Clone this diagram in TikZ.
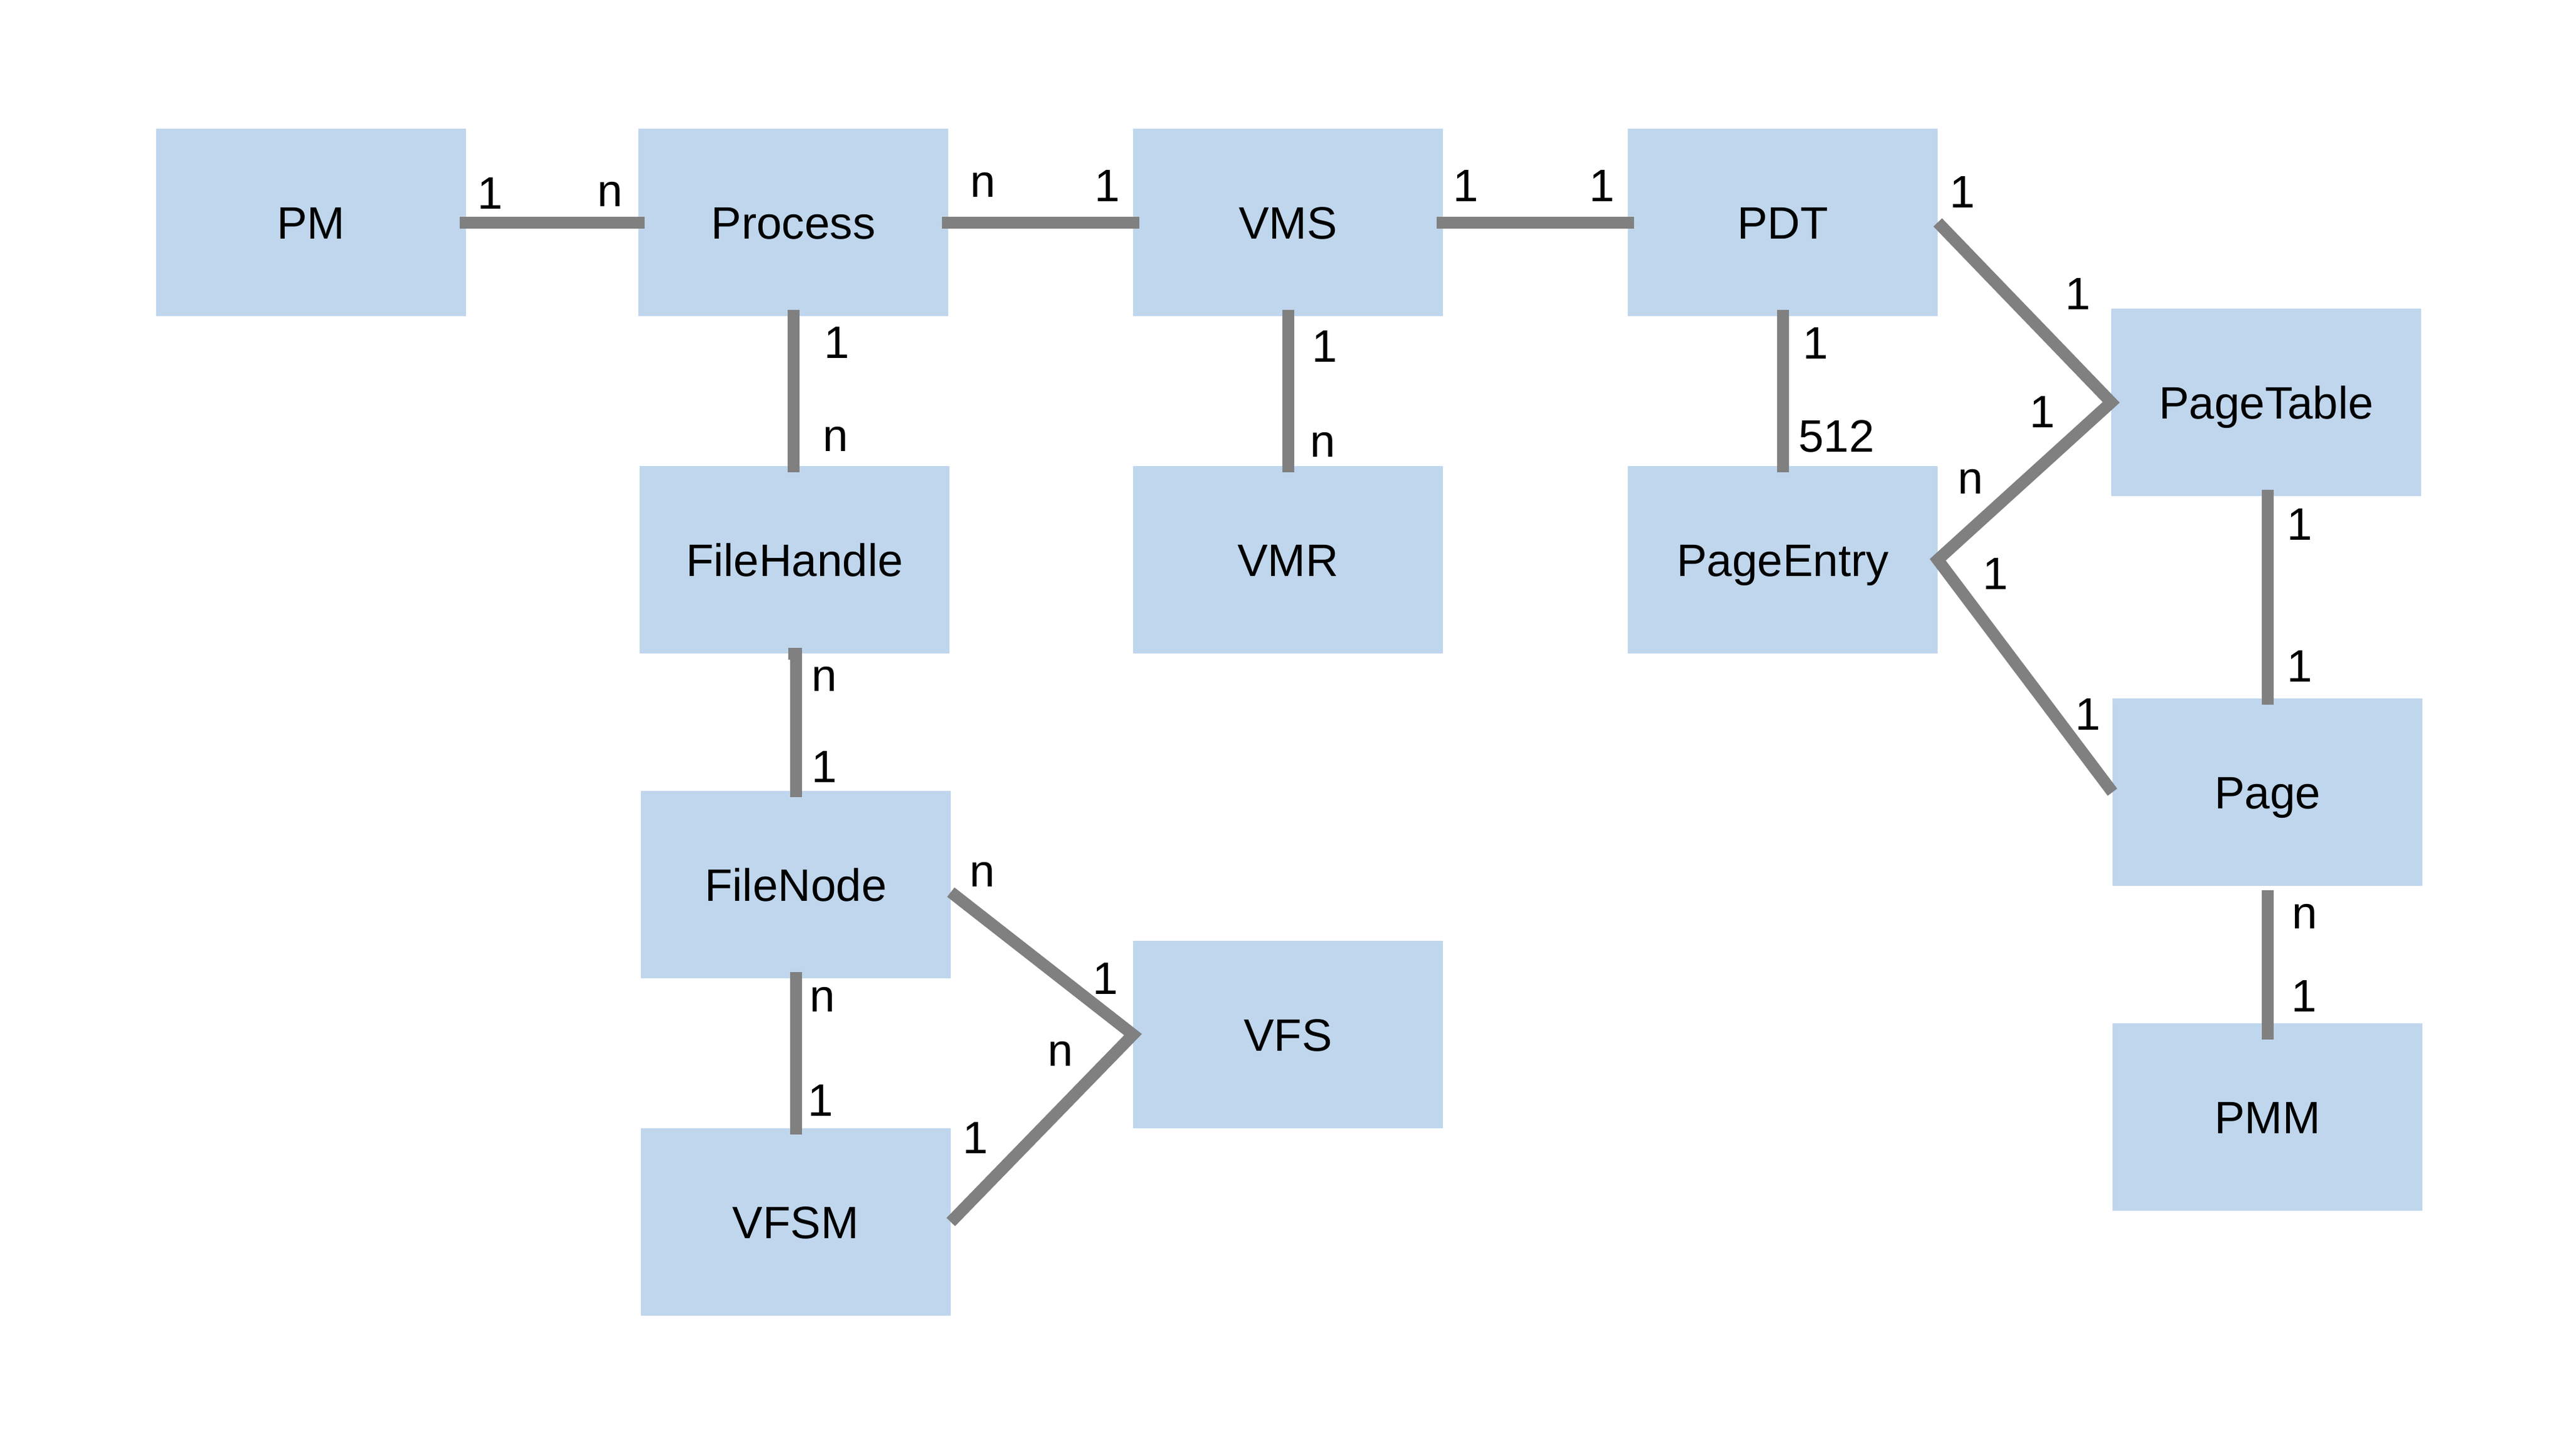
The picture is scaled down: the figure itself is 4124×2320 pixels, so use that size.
\documentclass[tikz,border=0pt]{standalone}
\usepackage{fontspec}
\setmainfont{Liberation Sans}
\definecolor{boxblue}{HTML}{BFD6ED}
\definecolor{linegray}{HTML}{808080}
\begin{document}
\begin{tikzpicture}[x=0.01cm,y=-0.01cm,
  entity/.style={fill=boxblue, minimum width=4.96cm, minimum height=3cm, inner sep=0pt, outer sep=0pt,
    font=\fontsize{20.7}{24}\selectfont, text height=14.8pt, text depth=0pt},
  card/.style={inner sep=0pt, font=\fontsize{20.7}{24}\selectfont},
  rel/.style={draw=linegray, line width=0.19cm, line join=miter},
  ext/.style={shorten >=-0.1cm, shorten <=-0.1cm}]
\useasboundingbox (0,0) rectangle (4124,2320);
\fill[white] (0,0) rectangle (4124,2320);
% entities
\node[entity] (pm)   at (498,356)   {PM};
\node[entity] (proc) at (1270,356)  {Process};
\node[entity] (vms)  at (2062,356)  {VMS};
\node[entity] (pdt)  at (2854,356)  {PDT};
\node[entity] (pt)   at (3628,644)  {PageTable};
\node[entity] (fh)   at (1272,896)  {FileHandle};
\node[entity] (vmr)  at (2062,896)  {VMR};
\node[entity] (pe)   at (2854,896)  {PageEntry};
\node[entity] (page) at (3630,1268) {Page};
\node[entity] (fn)   at (1274,1416) {FileNode};
\node[entity] (vfs)  at (2062,1656) {VFS};
\node[entity] (pmm)  at (3630,1788) {PMM};
\node[entity] (vfsm) at (1274,1956) {VFSM};
% relations
\draw[rel, ext] (pm.east) -- (proc.west);
\draw[rel, ext] (proc.east) -- (vms.west);
\draw[rel, ext] (vms.east) -- (pdt.west);
\draw[rel, ext] (proc.south) -- (proc.south |- fh.north);
\draw[rel, ext] (vms.south) -- (vmr.north);
\draw[rel, ext] (pdt.south) -- (pe.north);
\draw[rel, ext] (fh.south) -- (fh.south -| fn.north) -- (fn.north);
\draw[rel, ext] (fn.south) -- (vfsm.north);
\draw[rel, ext] (page.north |- pt.south) -- (page.north);
\draw[rel, shorten <=0.07cm, shorten >=-0.26cm] (page.south) -- (pmm.north);
\draw[rel] (pdt.east) -- (pt.west) -- (pe.east) -- (page.west);
\draw[rel] ([yshift=-0.12cm]fn.east) -- (vfs.west) -- (vfsm.east);
% cardinalities
\node[card] (c1)  at (785,309)   {1};
\node[card] (c2)  at (977,311)   {n};
\node[card] (c3)  at (1574,296)  {n};
\node[card] (c4)  at (1773,297)  {1};
\node[card] (c5)  at (2347,297)  {1};
\node[card] (c6)  at (2565,297)  {1};
\node[card] (c7)  at (1340,548)  {1};
\node[card] (c8)  at (1338,703)  {n};
\node[card] (c9)  at (2121,554)  {1};
\node[card] (c10) at (2118,712)  {n};
\node[card] (c11) at (2907,549)  {1};
\node[card] (c12) at (2940,698)  {512};
\node[card] (c13) at (1320,1087) {n};
\node[card] (c14) at (1320,1227) {1};
\node[card] (c15) at (1317,1600) {n};
\node[card] (c16) at (1314,1761) {1};
\node[card] (c17) at (1573,1400) {n};
\node[card] (c18) at (1770,1566) {1};
\node[card] (c19) at (1698,1687) {n};
\node[card] (c20) at (1562,1821) {1};
\node[card] (c21) at (3142,307)  {1};
\node[card] (c22) at (3327,470)  {1};
\node[card] (c23) at (3270,659)  {1};
\node[card] (c24) at (3155,771)  {n};
\node[card] (c25) at (3195,918)  {1};
\node[card] (c26) at (3343,1143) {1};
\node[card] (c27) at (3682,839)  {1};
\node[card] (c28) at (3682,1066) {1};
\node[card] (c29) at (3690,1467) {n};
\node[card] (c30) at (3689,1594) {1};
\end{tikzpicture}
\end{document}
